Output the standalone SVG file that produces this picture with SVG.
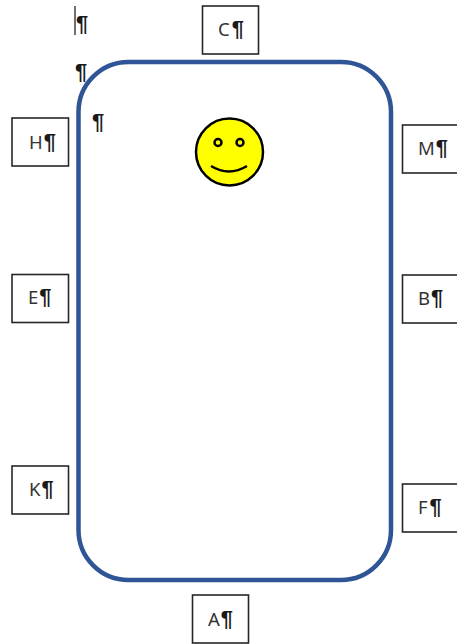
<svg xmlns="http://www.w3.org/2000/svg" width="457" height="644" viewBox="0 0 457 644">
<style>
.box{fill:#fff;stroke:#262626;stroke-width:1.6}
.t{font-family:"Noto Sans","Liberation Sans",sans-serif;font-size:18.500px;fill:#333}
.p{font-family:"Liberation Sans",Arial,sans-serif;font-size:22px;font-weight:bold;fill:#1a1a1a}
</style>
<rect width="457" height="644" fill="#fff"/>
<g id="frame"><rect x="78.500" y="62" width="312.500" height="518" rx="50" ry="50" fill="#fff" stroke="#2f5597" stroke-width="4.500"/></g>
<g id="connectors"/>
<g id="marks">
<path d="M75 6V35" stroke="#222" stroke-width="1.300" fill="none"/>
<text class="p" x="76" y="31">¶</text>
<text class="p" x="75" y="79">¶</text>
<text class="p" x="92" y="129">¶</text>
</g>
<g id="smiley" fill="none" stroke="#000">
<circle cx="229.500" cy="152" r="33.500" fill="#ff0" stroke-width="2.500"/>
<circle cx="218" cy="142.500" r="3.500" stroke-width="2.500"/>
<circle cx="240" cy="142.500" r="3.500" stroke-width="2.500"/>
<path d="M211 166Q229 177 247 166" stroke-width="2.500"/>
</g>
<g id="node-C"><rect class="box" x="202.500" y="6" width="56" height="48"/><text class="t" x="218" y="36">C<tspan class="p" dx="2">¶</tspan></text></g>
<g id="node-H"><rect class="box" x="12" y="118" width="56.500" height="48"/><text class="t" x="29" y="149">H<tspan class="p" dx="1">¶</tspan></text></g>
<g id="node-M"><rect class="box" x="402.500" y="125" width="60" height="48"/><text class="t" x="418" y="155">M<tspan class="p" dx="1">¶</tspan></text></g>
<g id="node-E"><rect class="box" x="12" y="274.500" width="56.500" height="48"/><text class="t" x="28" y="304">E<tspan class="p" dx="1">¶</tspan></text></g>
<g id="node-B"><rect class="box" x="402.500" y="275" width="60" height="48"/><text class="t" x="418" y="305">B<tspan class="p" dx="1">¶</tspan></text></g>
<g id="node-K"><rect class="box" x="12" y="466" width="56.500" height="48"/><text class="t" x="29" y="496">K<tspan class="p" dx="1">¶</tspan></text></g>
<g id="node-F"><rect class="box" x="402.500" y="484" width="60" height="48"/><text class="t" x="418" y="514">F<tspan class="p" dx="2">¶</tspan></text></g>
<g id="node-A"><rect class="box" x="192.500" y="595" width="56" height="48"/><text class="t" x="208" y="626">A<tspan class="p" dx="1">¶</tspan></text></g>
</svg>
